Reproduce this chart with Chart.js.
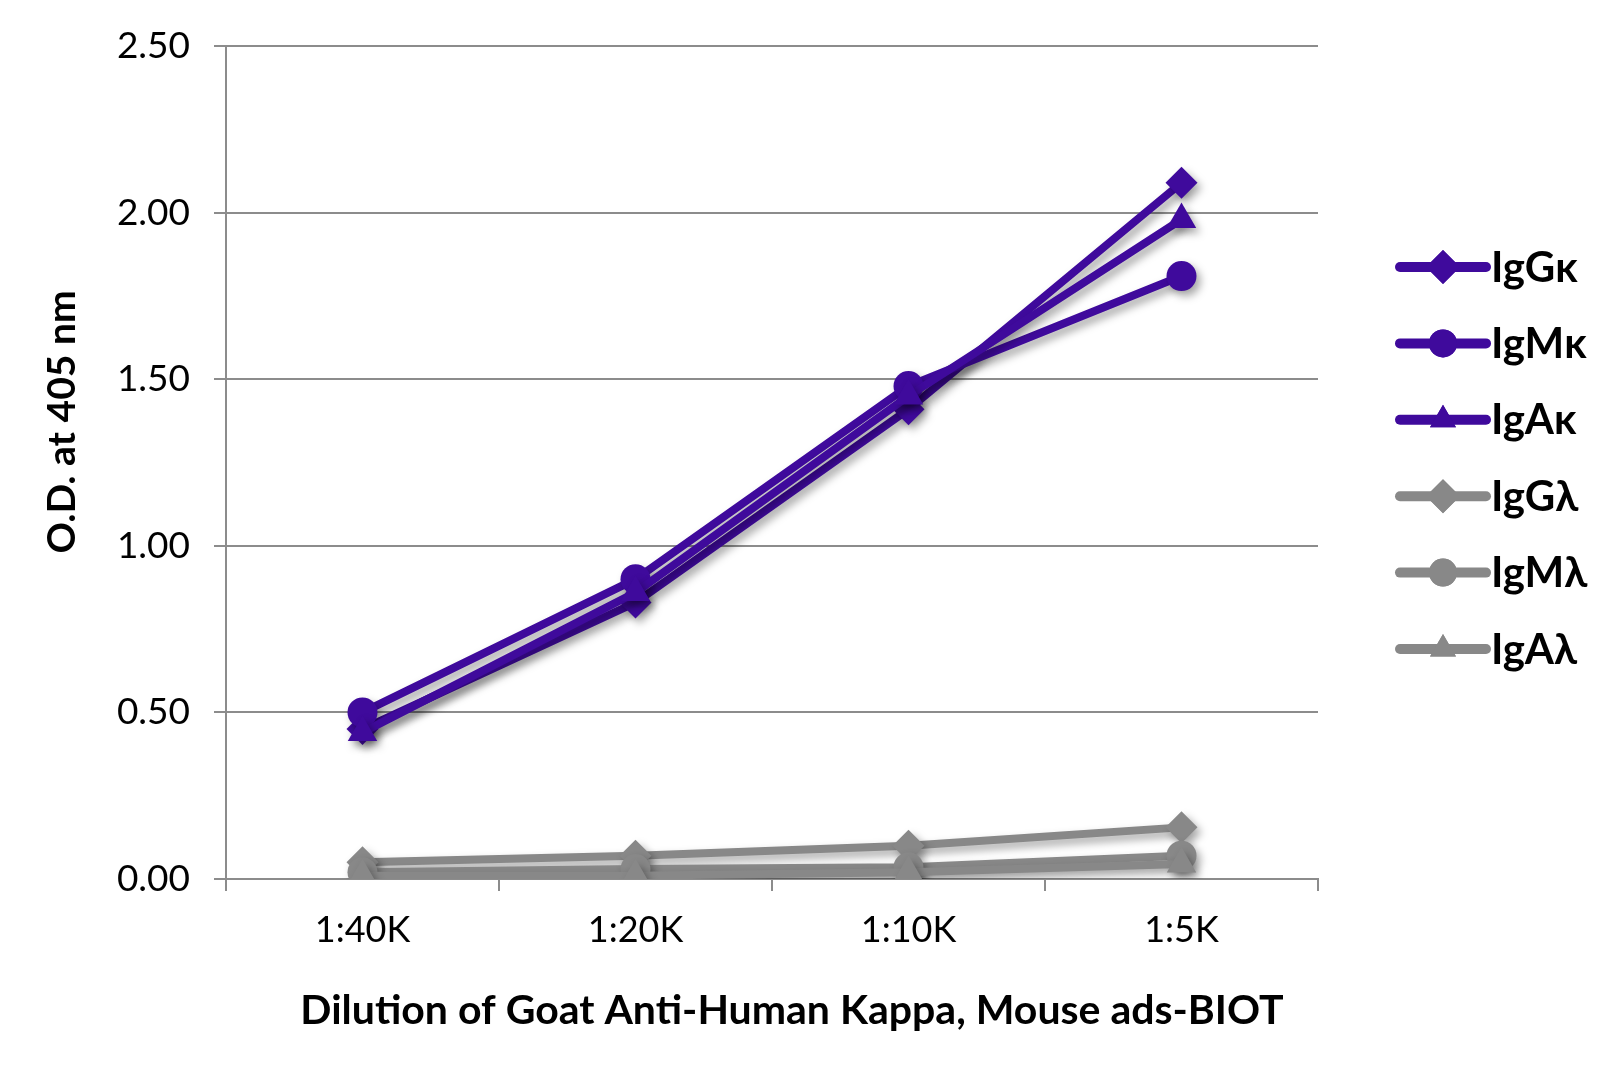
<!DOCTYPE html>
<html lang="en">
<head>
    <meta charset="UTF-8">
    <title>Goat Anti-Human Kappa ELISA</title>
    <script src="https://cdn.jsdelivr.net/npm/chart.js"></script>
    <style>
        html, body { margin: 0; padding: 0; background: #fff; }
        #wrap { width: 1608px; height: 1073px; }
    </style>
</head>
<body>
    <div id="wrap">
        <canvas id="odChart" width="1608" height="1073"></canvas>
    </div>

    <script>
        // data
        const dilutions = ['1:40K', '1:20K', '1:10K', '1:5K'];
        const seriesNames = ['IgGκ', 'IgMκ', 'IgAκ', 'IgGλ', 'IgMλ', 'IgAλ'];
        const iggKappa = [0.45, 0.83, 1.41, 2.09];
        const igmKappa = [0.50, 0.90, 1.48, 1.81];
        const igaKappa = [0.44, 0.86, 1.45, 1.98];
        const iggLambda = [0.05, 0.07, 0.10, 0.155];
        const igmLambda = [0.02, 0.03, 0.035, 0.07];
        const igaLambda = [0.01, 0.01, 0.02, 0.045];
        const yTicks = [0, 0.5, 1.0, 1.5, 2.0, 2.5];

        const purple = '#3f0a9c';
        const grey = '#888888';
        const gridGrey = '#8c8c8c';
        const shapes = ['rectRot', 'circle', 'triangle'];
        const radii = { rectRot: 16, circle: 15, triangle: 17 };
        const legendRadii = { rectRot: 17, circle: 14, triangle: 15 };

        const allSeries = [iggKappa, igmKappa, igaKappa, iggLambda, igmLambda, igaLambda];

        const datasets = allSeries.map((vals, i) => {
            const color = i < 3 ? purple : grey;
            const shape = shapes[i % 3];
            return {
                label: seriesNames[i],
                data: vals,
                borderColor: color,
                backgroundColor: color,
                borderWidth: 8,
                pointStyle: shape,
                pointRadius: radii[shape],
                pointBorderWidth: 0,
                pointBackgroundColor: color,
                tension: 0,
                fill: false,
                order: allSeries.length - i
            };
        });

        // soft drop shadow under the series, like the original
        const shadowPlugin = {
            id: 'shadow',
            beforeDatasetsDraw(chart) {
                const ctx = chart.ctx;
                ctx.save();
                ctx.shadowColor = 'rgba(0,0,0,0.35)';
                ctx.shadowBlur = 8;
                ctx.shadowOffsetX = 4;
                ctx.shadowOffsetY = 5;
            },
            afterDatasetsDraw(chart) {
                chart.ctx.restore();
            }
        };

        // axis titles are a little off-centre in the original, so draw them here
        const axisTitles = {
            id: 'axisTitles',
            afterDraw(chart) {
                const ctx = chart.ctx;
                ctx.save();
                ctx.fillStyle = '#000';
                ctx.textAlign = 'center';
                ctx.textBaseline = 'middle';
                ctx.font = 'bold 41px Lato';
                ctx.fillText('Dilution of Goat Anti-Human Kappa, Mouse ads-BIOT', 792, 1011);
                ctx.translate(62, 422);
                ctx.rotate(-Math.PI / 2);
                ctx.font = 'bold 39px Lato';
                ctx.fillText('O.D. at 405 nm', 0, 0);
                ctx.restore();
            }
        };

        // legend on the right: line + marker + bold label
        const sideLegend = {
            id: 'sideLegend',
            afterDraw(chart) {
                const ctx = chart.ctx;
                const x0 = 1400, x1 = 1486, textX = 1491;
                const top = 267, step = 76.4;
                chart.data.datasets.forEach((ds, i) => {
                    const y = top + i * step;
                    ctx.save();
                    ctx.strokeStyle = ds.borderColor;
                    ctx.lineWidth = 10;
                    ctx.lineCap = 'round';
                    ctx.beginPath();
                    ctx.moveTo(x0, y);
                    ctx.lineTo(x1, y);
                    ctx.stroke();
                    ctx.fillStyle = ds.borderColor;
                    Chart.helpers.drawPoint(ctx, {
                        pointStyle: ds.pointStyle,
                        radius: legendRadii[ds.pointStyle],
                        rotation: 0,
                        borderWidth: 0
                    }, (x0 + x1) / 2, y);
                    ctx.fill();
                    ctx.fillStyle = '#000';
                    ctx.font = 'bold 42px Lato';
                    ctx.textAlign = 'left';
                    ctx.textBaseline = 'middle';
                    ctx.fillText(ds.label, textX, y + 1);
                    ctx.restore();
                });
            }
        };

        new Chart(document.getElementById('odChart'), {
            type: 'line',
            data: {
                labels: dilutions,
                datasets: datasets
            },
            options: {
                responsive: false,
                animation: false,
                devicePixelRatio: 1,
                layout: { padding: { top: 46, right: 290, bottom: 0, left: 0 } },
                plugins: {
                    legend: { display: false },
                    tooltip: { enabled: false }
                },
                scales: {
                    x: {
                        offset: true,
                        afterFit: (s) => { s.height = 194; },
                        grid: {
                            offset: true,
                            drawOnChartArea: false,
                            color: gridGrey,
                            lineWidth: 2,
                            tickLength: 12,
                            tickWidth: 2,
                            tickColor: gridGrey
                        },
                        border: { display: true, color: gridGrey, width: 2 },
                        ticks: {
                            color: '#000',
                            padding: 18,
                            font: { family: 'Lato', size: 36 }
                        },
                        title: { display: false }
                    },
                    y: {
                        min: 0,
                        max: 2.5,
                        afterFit: (s) => { s.width = 226; },
                        afterBuildTicks: (s) => { s.ticks = yTicks.map(v => ({ value: v })); },
                        grid: {
                            color: gridGrey,
                            lineWidth: 2,
                            tickLength: 12
                        },
                        border: { display: true, color: gridGrey, width: 2 },
                        ticks: {
                            color: '#000',
                            padding: 24,
                            font: { family: 'Lato', size: 37 },
                            callback: (v) => Number(v).toFixed(2)
                        },
                        title: { display: false }
                    }
                }
            },
            plugins: [shadowPlugin, axisTitles, sideLegend]
        });
    </script>
</body>
</html>
